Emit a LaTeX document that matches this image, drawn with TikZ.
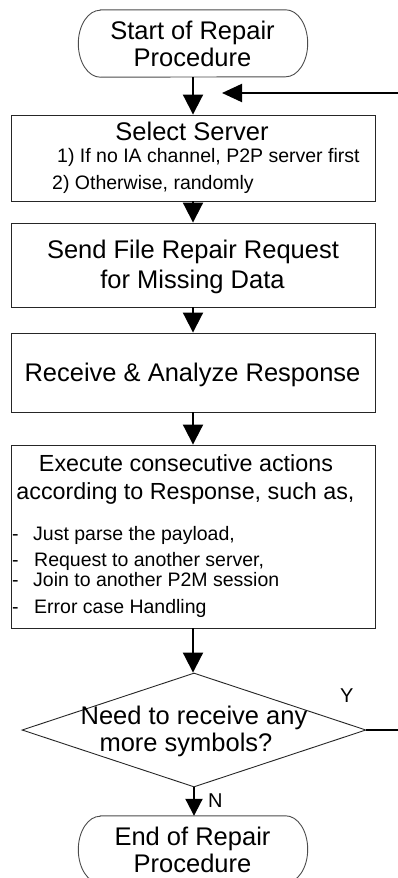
\documentclass[tikz,border=0pt]{standalone}
\usepackage{fontspec}
\setmainfont{Liberation Sans}
\usetikzlibrary{arrows.meta,shapes.geometric}
\begin{document}
\begin{tikzpicture}[x=1pt,y=-1pt,
  box/.style={draw=black!85, line width=0.9pt, minimum width=364pt, inner sep=0pt},
  termbox/.style={inner sep=0pt, minimum width=229pt, minimum height=67pt},
  term/.style={draw=black!70, line width=0.9pt},
  txt/.style={inner sep=0pt, anchor=base, font=\fontsize{25.5}{30}\selectfont},
  midtxt/.style={inner sep=0pt, anchor=base, font=\fontsize{23.3}{28}\selectfont},
  small/.style={inner sep=0pt, anchor=base west, font=\fontsize{19.5}{23}\selectfont},
  lbl/.style={inner sep=0pt, font=\fontsize{20}{24}\selectfont},
  flow/.style={line width=2pt, -{Triangle[length=20pt,width=20pt]}}]
\path[use as bounding box, clip] (0,0) rectangle (398,878);
\fill[white] (0,0) rectangle (398,878);

% start terminal
\node[termbox] (start) at (193,43.5) {};
\draw[term] ([xshift=22pt]start.north west) -- ([xshift=-22pt]start.north east)
  arc[start angle=90, end angle=-90, x radius=22pt, y radius=33.5pt]
  -- ([xshift=22pt]start.south west)
  arc[start angle=270, end angle=90, x radius=22pt, y radius=33.5pt] -- cycle;
\node[txt] (st1) at (192.5,39.5) {Start of Repair};
\node[txt] (st2) at (192.5,66.7) {Procedure};

% select server
\node[box, minimum height=86pt] (select) at (193,158) {};
\node[txt] (sel0) at (192,140) {Select Server};
\node[small] (sel1) at (57,162) {1) If no IA channel, P2P server first};
\node[small] (sel2) at (52,189) {2) Otherwise, randomly};

% send request
\node[box, minimum height=84pt] (send) at (193,265) {};
\node[txt] (sd1) at (193,258.3) {Send File Repair Request};
\node[txt] (sd2) at (192.5,288.3) {for Missing Data};

% receive
\node[box, minimum height=79pt] (recv) at (193,372.5) {};
\node[txt] (rc1) at (192.5,381.7) {Receive \& Analyze Response};

% execute
\node[box, minimum height=183pt] (exec) at (193,536.5) {};
\node[midtxt] (ex1) at (186,471.7) {Execute consecutive actions};
\node[midtxt] (ex2) at (185.5,499.3) {according to Response, such as,};
\node[small] (ex3) at (12,540.7) {\makebox[21pt][l]{-}Just parse the payload,};
\node[small] (ex4) at (12,566) {\makebox[22pt][l]{-}Request to another server,};
\node[small] (ex5) at (12,586.7) {\makebox[21pt][l]{-}Join to another P2M session};
\node[small] (ex6) at (12,613.3) {\makebox[22pt][l]{-}Error case Handling};

% decision
\node[draw=black!85, line width=0.9pt, diamond, inner sep=0pt,
      minimum width=344pt, minimum height=114pt] (dec) at (194,730) {};
\node[txt] (dq1) at (194,724) {Need to receive any};
\node[txt] (dq2) at (186,751.5) {more symbols?};
\node[lbl, anchor=base] (ylab) at (346.7,702) {Y};
\node[lbl, anchor=base west] (nlab) at (208,807) {N};

% end terminal
\node[termbox] (endt) at (193,849.5) {};
\draw[term] ([xshift=22pt]endt.north west) -- ([xshift=-22pt]endt.north east)
  arc[start angle=90, end angle=-90, x radius=22pt, y radius=33.5pt]
  -- ([xshift=22pt]endt.south west)
  arc[start angle=270, end angle=90, x radius=22pt, y radius=33.5pt] -- cycle;
\node[txt] (en1) at (192.5,845.5) {End of Repair};
\node[txt] (en2) at (192.5,872.7) {Procedure};

% connectors
\draw[flow] (start.south) -- (select.north);
\draw[flow] (select.south) -- (send.north);
\draw[flow] (send.south) -- (recv.north);
\draw[flow] (recv.south) -- (exec.north);
\draw[flow] (exec.south) -- (exec.south |- dec.north);
\draw[line width=2pt, -{Triangle[length=17pt,width=17pt]}] (dec.south) -- (dec.south |- endt.north);

\coordinate (loopc1) at (412,730);
\coordinate (loopc2) at (412,93);
\coordinate (loopin) at (222,93);
\draw[line width=2pt, -{Triangle[length=20pt,width=18pt]}] (dec.east) -- (loopc1) -- (loopc2) -- (loopin);
\end{tikzpicture}
\end{document}
